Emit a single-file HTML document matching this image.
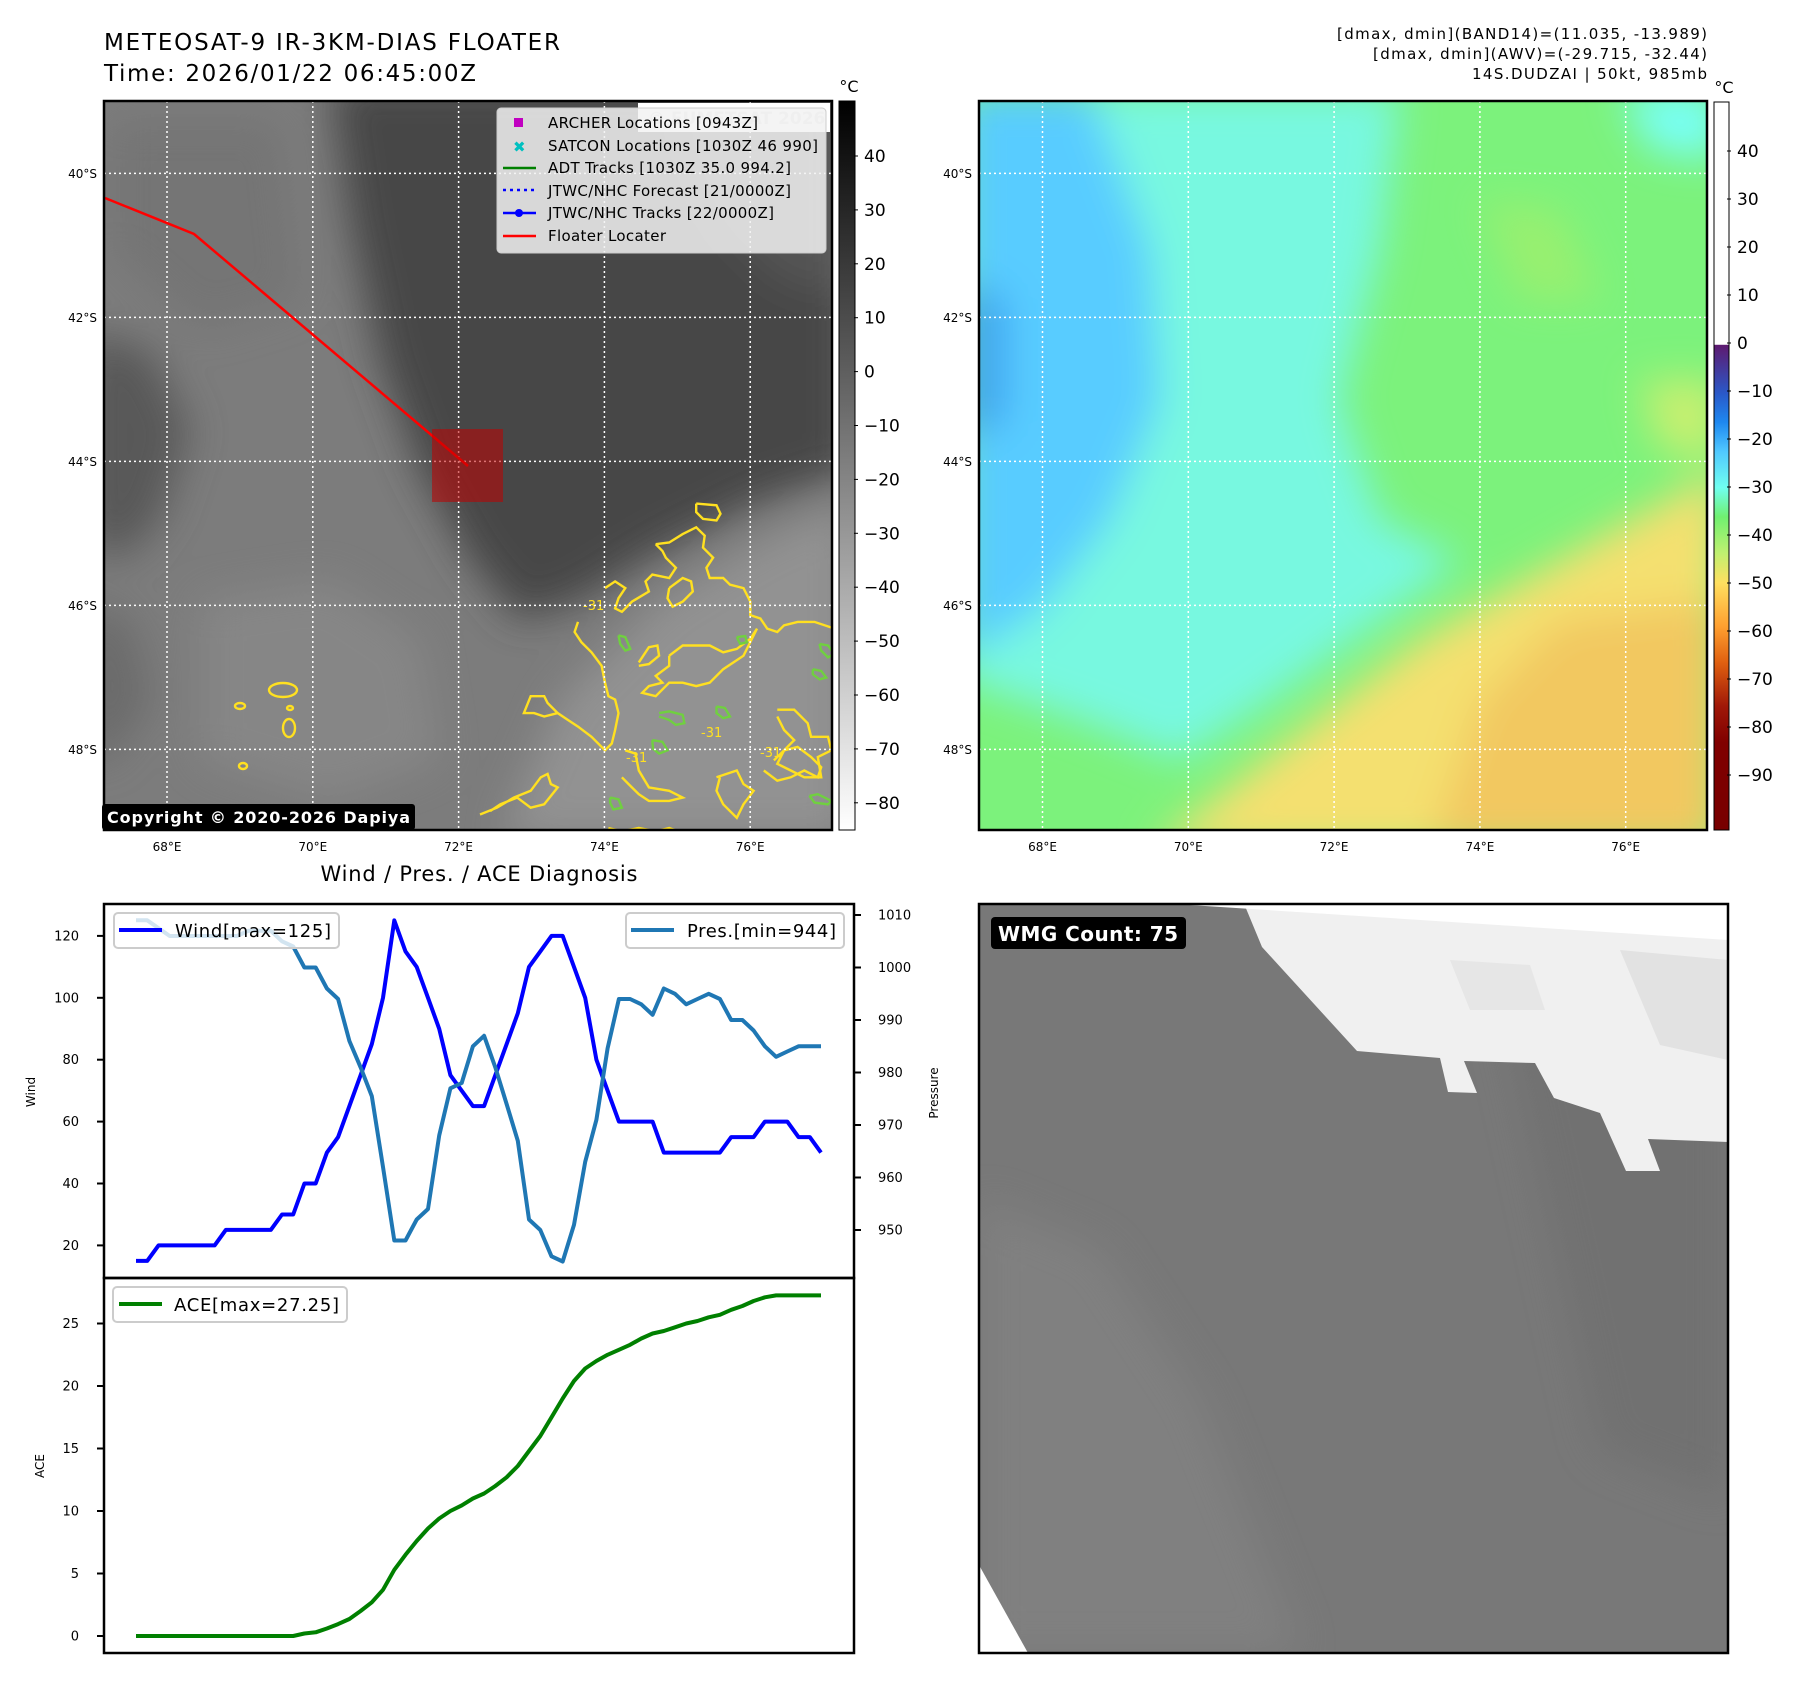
<!DOCTYPE html>
<html><head><meta charset="utf-8">
<style>
html,body{margin:0;padding:0;background:#fff;}
svg{display:block;font-family:"DejaVu Sans","Liberation Sans",sans-serif;}
</style></head>
<body>
<svg id="fig" width="1797" height="1690" viewBox="0 0 1797 1690" xmlns="http://www.w3.org/2000/svg">
<defs>
  <linearGradient id="grayBar" x1="0" y1="0" x2="0" y2="1">
    <stop offset="0" stop-color="#000"/><stop offset="1" stop-color="#fff"/>
  </linearGradient>
  <linearGradient id="colorBar" x1="0" y1="0" x2="0" y2="1">
    <stop offset="0" stop-color="#ffffff"/>
    <stop offset="0.333" stop-color="#ffffff"/>
    <stop offset="0.334" stop-color="#5e1a70"/>
    <stop offset="0.40" stop-color="#2a58c8"/>
    <stop offset="0.44" stop-color="#1e88f0"/>
    <stop offset="0.48" stop-color="#50c8ff"/>
    <stop offset="0.53" stop-color="#70fff0"/>
    <stop offset="0.57" stop-color="#70f070"/>
    <stop offset="0.62" stop-color="#c0f070"/>
    <stop offset="0.66" stop-color="#ffe060"/>
    <stop offset="0.72" stop-color="#ffa030"/>
    <stop offset="0.77" stop-color="#e06010"/>
    <stop offset="0.83" stop-color="#a01808"/>
    <stop offset="0.88" stop-color="#800000"/>
    <stop offset="1" stop-color="#780000"/>
  </linearGradient>
  <filter id="blur20" x="-20%" y="-20%" width="140%" height="140%"><feGaussianBlur stdDeviation="20"/></filter>
  <clipPath id="clipL"><rect x="104" y="101" width="728" height="729"/></clipPath>
  <clipPath id="clipR"><rect x="979" y="101" width="728" height="729"/></clipPath>
  <clipPath id="clipW"><rect x="979" y="904" width="749" height="749"/></clipPath>
</defs>

<text x="104" y="50" font-size="23" textLength="456">METEOSAT-9 IR-3KM-DIAS FLOATER</text>
<text x="104" y="81" font-size="23" textLength="372">Time: 2026/01/22 06:45:00Z</text>
<text x="1707" y="39" font-size="15" text-anchor="end" textLength="370">[dmax, dmin](BAND14)=(11.035, -13.989)</text>
<text x="1707" y="59" font-size="15" text-anchor="end" textLength="334">[dmax, dmin](AWV)=(-29.715, -32.44)</text>
<text x="1707" y="79" font-size="15" text-anchor="end" textLength="235">14S.DUDZAI | 50kt, 985mb</text>

<g clip-path="url(#clipL)">
  <rect x="104" y="101" width="728" height="729" fill="#7c7c7c"/>
  <g filter="url(#blur20)">
    <polygon points="330,80 850,80 850,470 760,500 660,550 580,600 520,620 470,560 420,470 380,360 350,220" fill="#474747"/>
    <polygon points="80,330 150,350 190,430 160,520 120,560 80,540" fill="#585858"/>
    <polygon points="80,600 130,620 150,700 110,760 80,760" fill="#6a6a6a"/>
    <polygon points="500,840 560,700 660,600 760,540 850,500 850,840" fill="#929292"/>
    <polygon points="680,101 850,101 850,300 780,280 720,220" fill="#555"/>
    <polygon points="200,600 330,580 420,640 440,760 330,800 200,760" fill="#868686"/>
    <polygon points="110,120 280,120 300,300 200,330 110,250" fill="#747474"/>
  </g>
</g>
<g id="contours" clip-path="url(#clipL)" fill="none" stroke-width="2.4"></g>
<g id="gridL"></g>
<polyline points="105,198 194,234 468,466" fill="none" stroke="#ff0000" stroke-width="2.5"/>
<rect x="432" y="429" width="71" height="73" fill="#c00000" fill-opacity="0.55"/>
<rect x="638" y="103" width="192" height="29" fill="#fff"/>
<text x="648" y="124" font-size="17" font-weight="bold" fill="#dcdcdc">© EUMETSAT 2026</text>
<g>
  <rect x="497" y="108" width="329" height="145" rx="4" fill="#f2f2f2" fill-opacity="0.85" stroke="#ccc"/>
  <rect x="514" y="118" width="9" height="9" fill="#c000c0"/>
  <text x="513" y="152" font-size="15" font-weight="bold" fill="#00c0c0">✖</text>
  <line x1="503" y1="168" x2="536" y2="168" stroke="#008000" stroke-width="2.5"/>
  <line x1="503" y1="190" x2="536" y2="190" stroke="#0000ff" stroke-width="2.5" stroke-dasharray="3,4"/>
  <line x1="503" y1="213" x2="536" y2="213" stroke="#0000ff" stroke-width="2.5"/><circle cx="519" cy="213" r="4" fill="#0000ff"/>
  <line x1="503" y1="236" x2="536" y2="236" stroke="#ff0000" stroke-width="2.5"/>
  <g font-size="15" fill="#000">
    <text x="548" y="128" textLength="210">ARCHER Locations [0943Z]</text>
    <text x="548" y="151" textLength="270">SATCON Locations [1030Z 46 990]</text>
    <text x="548" y="173" textLength="243">ADT Tracks [1030Z 35.0 994.2]</text>
    <text x="548" y="196" textLength="243">JTWC/NHC Forecast [21/0000Z]</text>
    <text x="548" y="218" textLength="226">JTWC/NHC Tracks [22/0000Z]</text>
    <text x="548" y="241" textLength="118">Floater Locater</text>
  </g>
</g>
<rect x="102" y="804" width="313" height="26" rx="3" fill="#000"/>
<text x="107" y="823" font-size="16" font-weight="bold" fill="#fff" textLength="303">Copyright © 2020-2026 Dapiya</text>
<rect x="104" y="101" width="728" height="729" fill="none" stroke="#000" stroke-width="2.5"/>
<rect x="839" y="101" width="16" height="729" fill="url(#grayBar)" stroke="#000" stroke-width="1"/>
<text x="849" y="92" font-size="16" text-anchor="middle">°C</text>
<g id="cbL" font-size="17"></g>

<g clip-path="url(#clipR)">
  <rect x="979" y="101" width="728" height="729" fill="#7cf27c"/>
  <g filter="url(#blur20)">
    <polygon points="960,90 1400,90 1380,250 1340,400 1380,520 1460,560 1380,620 1270,700 1180,760 1080,720 960,680" fill="#78f8e0"/>
    <polygon points="960,90 1090,90 1150,250 1160,400 1110,520 1040,610 960,660" fill="#58ccff"/>
    <polygon points="960,280 1005,300 1005,420 960,440" fill="#3ea0f0"/>
    <polygon points="1150,850 1290,740 1420,640 1560,560 1720,470 1720,850" fill="#f4e070"/>
    <polygon points="1430,850 1480,700 1560,620 1720,600 1720,850" fill="#f2c860"/>
    <polygon points="1620,90 1720,90 1720,160 1650,150" fill="#78fff8"/>
    <polygon points="1480,200 1560,210 1600,300 1520,300" fill="#98f070"/>
    <polygon points="1640,380 1720,380 1720,460 1660,450" fill="#c8f070"/>
  </g>
</g>
<g id="gridR"></g>
<rect x="979" y="101" width="728" height="729" fill="none" stroke="#000" stroke-width="2.5"/>
<rect x="1714" y="102" width="15" height="728" fill="url(#colorBar)" stroke="#000" stroke-width="1"/>
<text x="1724" y="93" font-size="16" text-anchor="middle">°C</text>
<g id="cbR" font-size="17"></g>

<text x="479" y="881" font-size="21" text-anchor="middle" textLength="317">Wind / Pres. / ACE Diagnosis</text>
<g id="chart"></g>

<g>
  <g clip-path="url(#clipW)">
    <rect x="979" y="904" width="749" height="749" fill="#787878"/>
    <polygon points="979,1200 1100,1250 1200,1400 1300,1653 979,1653" fill="#808080" filter="url(#blur20)"/>
    <polygon points="1500,1000 1728,1000 1728,1500 1600,1450" fill="#717171" filter="url(#blur20)"/>
    <polygon points="1174,904 1728,904 1728,1142 1648,1139 1660,1171 1626,1171 1600,1113 1554,1098 1535,1063 1464,1061 1477,1093 1448,1092 1440,1058 1357,1051 1262,947 1245,906" fill="#f0f0f0"/>
    <polygon points="1174,904 1728,904 1728,940" fill="#ffffff"/>
    <polygon points="1450,960 1530,965 1545,1010 1470,1010" fill="#e6e6e6"/>
    <polygon points="1620,950 1728,960 1728,1060 1660,1045" fill="#e2e2e2"/>
    <polygon points="979,1565 1028,1653 979,1653" fill="#ffffff"/>
  </g>
  <rect x="991" y="917" width="195" height="32" rx="4" fill="#000"/>
  <text x="998" y="941" font-size="20" font-weight="bold" fill="#fff" textLength="180">WMG Count: 75</text>
  <rect x="979" y="904" width="749" height="749" fill="none" stroke="#000" stroke-width="2.5"/>
</g>
</svg>

<script>
const windValues = [15,15,20,20,20,20,20,20,25,25,25,25,25,30,30,40,40,50,55,65,75,85,100,125,115,110,100,90,75,70,65,65,75,85,95,110,115,120,120,110,100,80,70,60,60,60,60,50,50,50,50,50,50,55,55,55,60,60,60,55,55,50];
const pressureValues = [1009,1009,1007.5,1006,1006,1006,1006,1006,1006,1006,1007,1007,1007,1005,1004,1000,1000,996,994,986,981,975.5,962,948,948,952,954,968,977,978,985,987,981,974,967,952,950,945,944,951,963,971,984.6,994,994,993,991,996,995,993,994,995,994,990,990,988,985,983,984,985,985,985];
const aceValues = [0,0,0,0,0,0,0,0,0,0,0,0,0,0,0,0.2,0.3,0.6,0.95,1.36,2,2.7,3.7,5.3,6.5,7.6,8.6,9.4,10,10.45,11,11.4,12,12.7,13.6,14.8,16,17.5,19,20.4,21.4,22,22.5,22.9,23.3,23.8,24.2,24.4,24.7,25,25.2,25.5,25.7,26.1,26.4,26.8,27.1,27.25,27.25,27.25,27.25,27.25];
const windTicks = [20,40,60,80,100,120];
const pressureTicks = [950,960,970,980,990,1000,1010];
const aceTicks = [0,5,10,15,20,25];
const latTicks = [40,42,44,46,48];
const lonTicks = [68,70,72,74,76];
const irBarTicks = [40,30,20,10,0,-10,-20,-30,-40,-50,-60,-70,-80];
const awvBarTicks = [40,30,20,10,0,-10,-20,-30,-40,-50,-60,-70,-80,-90];

const NS = 'http://www.w3.org/2000/svg';
function mk(tag, attrs, parent){const e=document.createElementNS(NS,tag);for(const k in attrs)e.setAttribute(k,attrs[k]);parent.appendChild(e);return e;}

const xIdx = i => 136 + i*(821-136)/(windValues.length-1);
const yWind = w => 1245.4 - (w-20)*3.095;
const yPres = p => 915 + (1010-p)*5.25;
const yAce = a => 1636 - a*12.5;
const lonX = lon => 167 + (lon-68)*72.9;
const latY = lat => 173.4 + (lat-40)*72.0;
const irBarY = v => 156 + (40-v)*5.39;
const awvBarY = v => 151 + (40-v)*4.8;

const chart = document.getElementById('chart');
let f1 = mk('rect',{x:104,y:904,width:750,height:374,fill:'none',stroke:'#000','stroke-width':2.5},chart);


let f2 = mk('rect',{x:104,y:1278,width:750,height:375,fill:'none',stroke:'#000','stroke-width':2.5},chart);



windTicks.forEach(v=>{
  const y=yWind(v);
  mk('line',{x1:97,y1:y,x2:104,y2:y,stroke:'#000','stroke-width':2},chart);
  const t=mk('text',{x:79,y:y+4.5,'font-size':13,'text-anchor':'end'},chart);
  t.textContent=v;
  
  
});
pressureTicks.forEach(v=>{
  const y=yPres(v);
  mk('line',{x1:854,y1:y,x2:861,y2:y,stroke:'#000','stroke-width':2},chart);
  const t=mk('text',{x:878,y:y+4.5,'font-size':13},chart);
  t.textContent=v;
  
  
});
aceTicks.forEach(v=>{
  const y=yAce(v);
  mk('line',{x1:97,y1:y,x2:104,y2:y,stroke:'#000','stroke-width':2},chart);
  const t=mk('text',{x:79,y:y+4.5,'font-size':13,'text-anchor':'end'},chart);
  t.textContent=v;
  
  
});
let yl1=mk('text',{x:0,y:0,'font-size':12,'text-anchor':'middle',transform:'translate(35,1092) rotate(-90)'},chart);
yl1.textContent='Wind';


let yl2=mk('text',{x:0,y:0,'font-size':12,'text-anchor':'middle',transform:'translate(938,1093) rotate(-90)'},chart);
yl2.textContent='Pressure';


let yl3=mk('text',{x:0,y:0,'font-size':12,'text-anchor':'middle',transform:'translate(44,1466) rotate(-90)'},chart);
yl3.textContent='ACE';



const pts = (arr, yf) => arr.map((v,i)=>xIdx(i).toFixed(1)+','+yf(v).toFixed(1)).join(' ');
let windLine = mk('polyline',{points:pts(windValues,yWind),fill:'none',stroke:'#0000ff','stroke-width':4,'stroke-linejoin':'round'},chart);


let presLine = mk('polyline',{points:pts(pressureValues,yPres),fill:'none',stroke:'#1f77b4','stroke-width':4,'stroke-linejoin':'round'},chart);


let aceLine = mk('polyline',{points:pts(aceValues,yAce),fill:'none',stroke:'#008000','stroke-width':4,'stroke-linejoin':'round'},chart);



let lg1=mk('rect',{x:114,y:913,width:225,height:35,rx:4,fill:'#fff','fill-opacity':0.8,stroke:'#ccc','stroke-width':2},chart);


mk('line',{x1:119,y1:930,x2:162,y2:930,stroke:'#0000ff','stroke-width':4},chart);
let lt1=mk('text',{x:175,y:937,'font-size':18,textLength:156},chart);
lt1.textContent='Wind[max=125]';


let lg2=mk('rect',{x:626,y:913,width:218,height:35,rx:4,fill:'#fff','fill-opacity':0.8,stroke:'#ccc','stroke-width':2},chart);


mk('line',{x1:631,y1:930,x2:674,y2:930,stroke:'#1f77b4','stroke-width':4},chart);
let lt2=mk('text',{x:687,y:937,'font-size':18,textLength:149},chart);
lt2.textContent='Pres.[min=944]';


let lg3=mk('rect',{x:113,y:1287,width:234,height:35,rx:4,fill:'#fff','fill-opacity':0.8,stroke:'#ccc','stroke-width':2},chart);


mk('line',{x1:119,y1:1304,x2:162,y2:1304,stroke:'#008000','stroke-width':4},chart);
let lt3=mk('text',{x:174,y:1311,'font-size':18,textLength:165},chart);
lt3.textContent='ACE[max=27.25]';



function grid(gid, x0, x1, offset){
  const g=document.getElementById(gid);
  lonTicks.forEach(l=>{
    const x=lonX(l)+offset;
    mk('line',{x1:x,y1:101,x2:x,y2:830,stroke:'#fff','stroke-width':1.5,'stroke-dasharray':'2,3'},g);
    const t=mk('text',{x:x,y:851,'font-size':12,'text-anchor':'middle'},g);
    t.textContent=l+'°E';
    
    
  });
  latTicks.forEach(l=>{
    const y=latY(l);
    mk('line',{x1:x0,y1:y,x2:x1,y2:y,stroke:'#fff','stroke-width':1.5,'stroke-dasharray':'2,3'},g);
    const t=mk('text',{x:x0-7,y:y+4.5,'font-size':12,'text-anchor':'end'},g);
    t.textContent=l+'°S';
    
    
  });
}
grid('gridL',104,832,0);
grid('gridR',979,1707,875.5);

function cbar(gid, ticks, yf, x){
  const g=document.getElementById(gid);
  ticks.forEach(v=>{
    const y=yf(v);
    mk('line',{x1:x-4,y1:y,x2:x,y2:y,stroke:'#000','stroke-width':1},g);
    const t=mk('text',{x:x+6,y:y+6,'font-size':17},g);
    t.textContent=(v < 0 ? '\u2212'+(-v) : String(v));
    
    
  });
}
cbar('cbL',irBarTicks,irBarY,858);
cbar('cbR',awvBarTicks,awvBarY,1731);

const cg=document.getElementById('contours');
const yellowPaths=[
 [520,190,560,185,600,160,640,140,665,165,660,200,690,230,670,260,680,290,720,290,740,310,780,320,800,360,800,400,830,410,850,440,880,450,900,430,940,420,990,420,1050,440],
 [370,320,400,300,430,320,410,350,400,380,420,390,450,360,500,330,490,300,510,280,560,290,580,260,550,230,540,210,520,190],
 [290,420,280,450,300,480,330,510,360,550,370,600,380,640,400,650,410,690,400,740,390,780,370,800,330,760,290,730,260,710,230,690,190,700,160,690,130,690,150,640,190,640,200,660,230,690],
 [560,520,600,490,680,490,720,510,760,500,800,470,820,440,780,520,720,560,680,600,640,610,600,600,560,600,520,640,480,630,500,610,540,600,520,580,560,550,560,520],
 [430,800,460,810,470,860,500,910,560,920,600,940,560,950,500,950,470,930,440,900,420,880],
 [0,990,50,970,100,940,150,920,180,880,200,870,210,900,230,910,190,960,150,970,110,940,60,960,30,980],
 [700,880,730,870,760,860,780,900,810,920,780,960,760,1000,720,960,700,920,710,880],
 [880,680,930,680,970,720,980,760,1030,760,1040,800,1000,820,1010,880,960,880,920,860,880,840,900,800,930,770,900,740,880,700],
 [640,70,700,75,712,100,700,120,660,115,640,95,640,70],
 [560,320,600,290,625,300,630,330,600,360,570,375,555,350,560,320],
 [470,540,500,495,525,490,530,520,500,545,470,550],
 [840,860,880,890,920,880,960,860,1000,880,1010,850,980,820,940,790,900,800,870,830],
 [380,1030,420,1040,470,1030,520,1040,560,1030,600,1045]
];
const greenPaths=[
 [410,460,430,465,445,500,430,505,415,485,410,460],
 [530,690,560,685,600,695,605,720,580,725,560,710,530,700],
 [510,770,540,775,555,800,530,810,512,795,510,770],
 [1005,485,1030,490,1048,515,1030,525,1010,505,1005,485],
 [985,560,1010,565,1025,585,1005,590,985,575,985,560],
 [760,465,785,462,790,480,770,485,760,465],
 [700,670,725,675,740,700,720,705,700,690,700,670],
 [385,940,410,945,420,970,395,975,385,955,385,940],
 [975,935,1000,930,1040,950,1030,960,990,955,975,935]
];
function drawPaths(list,color){
  list.forEach(p=>{
    let s='';
    for(let i=0; i < p.length; i+=2){s+=(480+p[i]/2.96).toFixed(1)+','+(480+p[i+1]/2.96).toFixed(1)+' ';}
    const e=mk('polyline',{points:s,stroke:color},cg);
    
    
  });
}
drawPaths(yellowPaths,'#ffe020');
drawPaths(greenPaths,'#70d040');
[[283,690,14,7],[289,728,6,9],[240,706,5,3],[243,766,4,3],[290,708,3,2]].forEach(b=>{
  const e=mk('ellipse',{cx:b[0],cy:b[1],rx:b[2],ry:b[3],stroke:'#ffe020'},cg);
  
  
});
[[583,610],[760,757],[701,737],[626,762]].forEach(p=>{
  const t=mk('text',{x:p[0],y:p[1],'font-size':13,fill:'#ffe020',stroke:'none'},cg);
  t.textContent='-31';
  
  
});
</script>
</body></html>
